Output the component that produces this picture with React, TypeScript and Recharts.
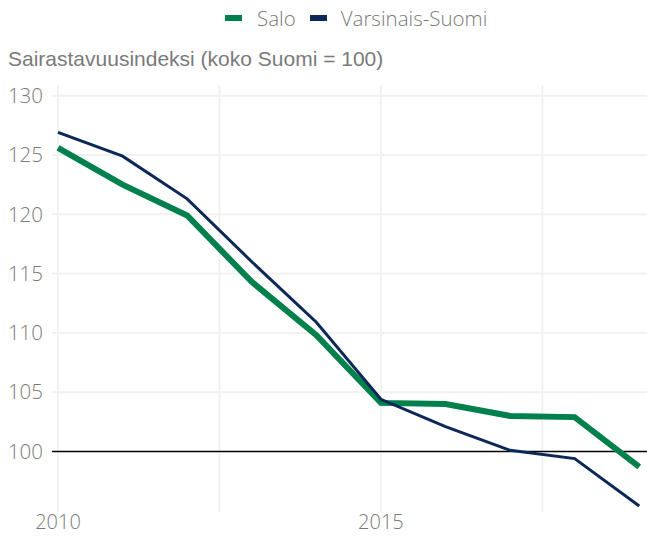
import React from "react";
import { LineChart, Line, XAxis, YAxis, ReferenceLine } from "recharts";

const years = [2010, 2011, 2012, 2013, 2014, 2015, 2016, 2017, 2018, 2019];
const salo = [125.6, 122.5, 119.9, 114.3, 109.8, 104.1, 104.0, 103.0, 102.9, 98.7];
const varsinaisSuomi = [126.9, 124.9, 121.3, 116.0, 110.9, 104.4, 102.1, 100.1, 99.4, 95.4];
const xTicks = [2010, 2012.5, 2015, 2017.5];
const yTicks = [100, 105, 110, 115, 120, 125, 130];
const seriesNames = ["Salo", "Varsinais-Suomi"];
const title = "Sairastavuusindeksi (koko Suomi = 100)";

const GREEN = "#00804c";
const NAVY = "#0b2858";
const GRID = "#f1f1f1";

const data = years.map((y, i) => ({ year: y, salo: salo[i], vs: varsinaisSuomi[i] }));

const tickFont = { fontFamily: "'Open Sans', Lato, sans-serif", fontWeight: 300, fontSize: 20.5, fill: "#7a7a7a" };
const xTickFont = { ...tickFont, fontSize: 20 };

export default function App() {
  return (
    <div style={{ position: "absolute", left: 0, top: 0, width: 647, height: 537, background: "#fff" }}>
      <div style={{ position: "absolute", left: 225, top: 4, display: "flex", alignItems: "center", fontFamily: "'Open Sans', Lato, sans-serif", fontWeight: 300, fontSize: 20.5, color: "#7a7a7a", whiteSpace: "nowrap", lineHeight: "28px" }}>
        <span style={{ display: "inline-block", width: 17, height: 6, background: GREEN, marginRight: 15 }} />
        <span style={{ marginRight: 14 }}>{seriesNames[0]}</span>
        <span style={{ display: "inline-block", width: 17, height: 6, background: NAVY, marginRight: 14 }} />
        <span>{seriesNames[1]}</span>
      </div>
      <div style={{ position: "absolute", left: 8, top: 47, fontFamily: "'Liberation Sans', Arial, sans-serif", fontSize: 21, color: "#7a7a7a", whiteSpace: "nowrap", lineHeight: "24px" }}>
        {title}
      </div>
      <LineChart width={647} height={537} data={data} margin={{ top: 85, right: 0, bottom: 0, left: 0 }}>
        <XAxis
          dataKey="year"
          type="number"
          domain={[2009.907, 2019.12]}
          ticks={xTicks}
          tickFormatter={(v: number) => (Number.isInteger(v) ? String(v) : "")}
          axisLine={false}
          tickLine={false}
          tick={xTickFont}
          height={25}
          tickMargin={-3}
          allowDataOverflow
        />
        <YAxis
          type="number"
          domain={[94.9, 130.9]}
          ticks={yTicks}
          axisLine={false}
          tickLine={false}
          tick={tickFont}
          width={52}
          tickMargin={3}
          allowDataOverflow
        />
        {yTicks.filter((t) => t !== 100).map((t) => (
          <ReferenceLine key={"h" + t} y={t} stroke={GRID} strokeWidth={2} />
        ))}
        {xTicks.map((t) => (
          <ReferenceLine key={"v" + t} x={t} stroke={GRID} strokeWidth={2} />
        ))}
        <ReferenceLine y={100} stroke="#000" strokeWidth={1.5} />
        <Line dataKey="salo" stroke={GREEN} strokeWidth={6} dot={false} isAnimationActive={false} />
        <Line dataKey="vs" stroke={NAVY} strokeWidth={3} dot={false} isAnimationActive={false} />
      </LineChart>
    </div>
  );
}
